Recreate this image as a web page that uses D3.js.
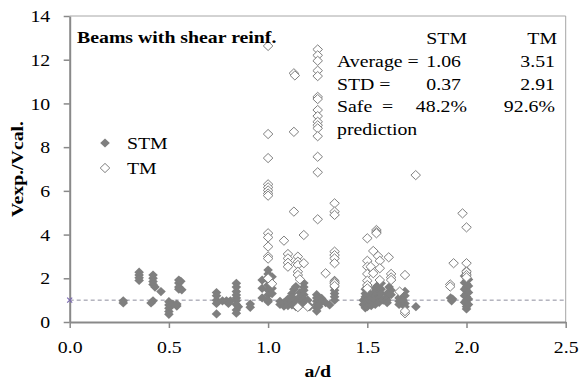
<!DOCTYPE html>
<html>
<head>
<meta charset="utf-8">
<script src="https://cdn.jsdelivr.net/npm/d3@7"></script>
<style>
  body { margin: 0; background: #fff; }
  text { font-family: "Liberation Serif", "Times New Roman", serif; fill: #000; }
</style>
</head>
<body>
<div id="chart"></div>
<script>
// shear strength ratio vs a/d, STM (filled) and TM (hollow)
const stmPoints = [
  [0.27,0.97],[0.27,0.87],
  [0.35,2.28],[0.35,2.15],[0.35,2.02],[0.35,1.9],
  [0.42,2.15],[0.42,2.0],[0.42,1.85],[0.42,1.72],[0.43,1.6],[0.46,1.39],[0.42,0.97],[0.41,0.87],
  [0.5,0.93],[0.5,0.78],[0.5,0.63],[0.5,0.48],[0.5,0.35],[0.52,0.82],[0.54,0.73],[0.54,0.82],
  [0.55,1.92],[0.55,1.78],[0.55,1.6],[0.55,1.5],[0.56,1.86],[0.565,1.47],
  [0.74,1.35],[0.74,1.2],[0.74,1.0],[0.74,0.85],[0.74,0.37],
  [0.77,0.97],[0.79,0.97],[0.81,0.97],[0.8,0.85],
  [0.84,1.77],[0.84,1.6],[0.84,1.4],[0.84,1.24],[0.84,1.1],[0.84,0.97],[0.84,0.8],[0.84,0.55],[0.84,0.4],[0.85,0.7],
  [0.91,0.82],[0.91,0.67],
  [1.0,2.38],[1.0,2.2],[1.0,2.05],[1.0,1.92],[1.0,1.69],[1.0,1.46],[1.0,1.24],[1.0,1.0],[1.0,0.93],
  [0.97,1.92],[0.97,1.54],[0.97,1.1],[1.02,2.07],[1.02,1.54],[1.02,1.3],
  [1.06,0.95],[1.06,0.8],[1.08,0.88],[1.08,0.73],[1.1,1.05],[1.1,0.9],[1.1,0.75],
  [1.12,1.3],[1.12,1.15],[1.12,0.95],[1.12,0.78],[1.13,1.5],[1.14,1.62],[1.14,1.0],[1.14,0.85],[1.14,0.7],
  [1.16,1.35],[1.16,1.15],[1.16,0.9],[1.16,0.75],[1.18,1.78],[1.18,1.6],[1.18,1.45],[1.18,1.25],[1.18,1.05],[1.18,0.85],
  [1.2,1.0],[1.2,0.8],[1.21,0.7],
  [1.245,1.25],[1.245,1.1],[1.245,0.95],[1.245,0.8],[1.245,0.65],[1.245,0.5],[1.255,1.0],[1.255,0.7],
  [1.27,1.08],[1.27,0.92],[1.29,0.88],[1.31,0.78],
  [1.335,1.9],[1.335,1.75],[1.335,1.6],[1.335,1.45],[1.335,1.3],[1.335,1.15],[1.335,1.0],
  [1.48,1.0],[1.48,0.8],[1.49,1.5],[1.49,1.3],[1.49,1.15],[1.49,0.65],[1.5,1.6],[1.5,1.4],[1.5,1.2],[1.5,1.0],[1.5,0.85],[1.5,0.7],
  [1.52,1.1],[1.52,0.9],[1.52,0.75],[1.53,1.3],[1.54,1.55],[1.54,1.4],[1.54,1.2],[1.54,1.0],[1.54,0.8],[1.55,1.65],
  [1.56,1.1],[1.56,0.9],[1.57,1.77],[1.57,1.5],[1.57,1.3],[1.58,1.0],
  [1.6,1.3],[1.6,1.15],[1.6,1.0],[1.6,0.88],[1.62,1.45],[1.62,1.25],[1.61,1.6],
  [1.66,0.95],[1.66,0.8],[1.66,1.1],[1.69,1.4],[1.69,1.2],[1.69,0.85],[1.69,0.7],[1.68,1.0],[1.745,0.7],
  [1.92,1.1],[1.925,0.97],[1.93,1.05],
  [2.0,2.35],[2.0,2.2],[2.0,2.05],[2.0,1.9],[2.0,1.75],[2.0,1.6],[2.0,1.45],[2.0,1.3],[2.0,1.15],[2.0,1.0],[2.0,0.85],[2.0,0.7],[2.0,0.6],
  [1.99,2.1],[1.99,1.8],[1.99,1.5],[1.99,1.2],[1.99,0.9],[2.01,1.95],[2.01,1.65],[2.01,1.35],[2.01,1.05],[2.01,0.8]
];

const tmPoints = [
  [1.0,12.63],[1.0,8.6],[1.0,7.5],[1.0,6.3],[1.0,6.16],[1.0,6.02],[1.0,5.88],[1.0,5.78],
  [1.0,4.06],[1.0,3.87],[1.0,3.45],[1.0,3.0],[1.0,2.9],[1.0,2.0],[1.02,1.75],
  [1.13,11.38],[1.135,11.28],[1.13,8.7],[1.08,3.72],[1.1,3.11],[1.1,2.91],[1.1,2.71],[1.1,2.53],[1.13,5.05],
  [1.15,2.99],[1.15,2.76],[1.15,2.61],[1.15,2.3],[1.15,2.15],[1.16,1.95],[1.18,2.69],[1.18,3.98],[1.15,0.68],[1.2,0.7],
  [1.25,12.47],[1.25,12.2],[1.25,11.95],[1.25,11.5],[1.25,11.25],[1.25,10.3],[1.25,10.2],[1.25,9.7],[1.25,9.42],
  [1.25,9.16],[1.25,9.0],[1.25,8.86],[1.25,8.5],[1.25,7.56],[1.25,6.85],[1.25,4.7],
  [1.29,2.23],
  [1.335,5.43],[1.335,5.05],[1.335,4.9],[1.335,3.22],[1.335,3.06],[1.335,2.91],[1.335,2.69],[1.335,1.84],[1.335,1.77],[1.335,1.65],
  [1.5,3.83],[1.5,2.8],[1.5,2.53],[1.5,2.2],[1.5,1.89],[1.5,1.69],[1.5,1.54],[1.517,2.53],[1.53,3.25],[1.53,2.23],
  [1.546,4.21],[1.546,4.12],[1.546,4.06],[1.554,3.02],[1.563,2.8],[1.563,2.46],[1.563,1.92],
  [1.608,2.96],[1.62,2.2],[1.62,2.04],[1.62,1.92],[1.69,2.15],[1.663,1.39],[1.69,0.4],[1.69,0.5],[1.744,6.72],
  [1.98,4.97],[2.0,4.33],[1.935,2.69],[2.0,2.69],[2.0,2.3],[2.0,2.15],[2.0,2.04],[1.918,1.72],[1.918,1.62]
];

const refLine = [[0, 1], [2.5, 1]];
const xTicks = [0, 0.5, 1.0, 1.5, 2.0, 2.5];
const yTicks = [0, 2, 4, 6, 8, 10, 12, 14];
const seriesNames = ["STM", "TM"];
const statLabels = ["Average =", "STD =", "Safe  =", "prediction"];
const stmStats = ["1.06", "0.37", "48.2%"];
const tmStats = ["3.51", "2.91", "92.6%"];

const W = 582, H = 391;
const SX = 1.2; // text in the original is stretched sideways
const FS = "16.5px";
const GREY = "#7f7f7f";

const svg = d3.select("#chart").append("svg")
  .attr("width", W).attr("height", H);

const x = d3.scaleLinear().domain([0, 2.5]).range([69.7, 565.7]);
const y = d3.scaleLinear().domain([0, 14]).range([322, 16]);

function label(g, px, py, str, anchor, bold, rot) {
  return g.append("text")
    .attr("transform", "translate(" + px + "," + py + ")" + (rot ? " rotate(-90)" : "") + " scale(" + SX + ",1)")
    .attr("text-anchor", anchor || "start")
    .style("font-size", FS)
    .style("font-weight", bold ? "bold" : "normal")
    .style("white-space", "pre")
    .text(str);
}

// plot frame (top + right)
svg.append("path")
  .attr("d", "M" + x(0) + "," + y(14) + "H" + x(2.5) + "V" + y(0))
  .attr("fill", "none").attr("stroke", "#a6a6a6").attr("stroke-width", 1);

// axes
const yAxis = d3.axisLeft(y).tickValues(yTicks).tickSize(6).tickSizeOuter(0).tickFormat(d3.format("d"));
const gy = svg.append("g").attr("transform", "translate(" + x(0) + ",0)").call(yAxis);
gy.selectAll("text").attr("x", null).attr("dy", "0.34em")
  .attr("transform", "translate(-19.5,0) scale(" + SX + ",1)")
  .style("font-size", FS).style("font-family", "Liberation Serif");

const xAxis = d3.axisBottom(x).tickValues(xTicks).tickSize(6).tickSizeOuter(0).tickFormat(d3.format(".1f"));
const gx = svg.append("g").attr("transform", "translate(0," + y(0) + ")").call(xAxis);
gx.selectAll("text").attr("y", null).attr("dy", null)
  .attr("transform", "translate(0,30.5) scale(" + SX + ",1)")
  .style("font-size", FS).style("font-family", "Liberation Serif");

[gx, gy].forEach(g => {
  g.select(".domain").attr("stroke", "#898989").attr("stroke-width", 2);
  g.selectAll(".tick line").attr("stroke", "#898989").attr("stroke-width", 1.5);
});

// reference line at ratio 1
svg.append("path")
  .datum(refLine)
  .attr("d", d3.line().x(d => x(d[0])).y(d => y(d[1])))
  .attr("fill", "none").attr("stroke", "#8c8c9c").attr("stroke-width", 1)
  .attr("stroke-dasharray", "4,3");
svg.append("path")
  .attr("transform", "translate(" + x(refLine[0][0]) + "," + y(refLine[0][1]) + ")")
  .attr("d", "M-2.5,-2.5L2.5,2.5M-2.5,2.5L2.5,-2.5")
  .attr("stroke", "#7a68b0").attr("stroke-width", 1.2);

const diamond = "M0,-4.6L4.8,0L0,4.6L-4.8,0Z";

svg.append("g").selectAll("path")
  .data(stmPoints).enter().append("path")
  .attr("d", diamond)
  .attr("transform", d => "translate(" + x(d[0]) + "," + y(d[1]) + ")")
  .attr("fill", GREY);

svg.append("g").selectAll("path")
  .data(tmPoints).enter().append("path")
  .attr("d", diamond)
  .attr("transform", d => "translate(" + x(d[0]) + "," + y(d[1]) + ")")
  .attr("fill", "#fff").attr("stroke", GREY).attr("stroke-width", 1);

// legend
const leg = svg.append("g");
seriesNames.forEach((name, i) => {
  leg.append("path")
    .attr("d", diamond)
    .attr("transform", "translate(105," + (143 + i * 25) + ")")
    .attr("fill", i === 0 ? GREY : "#fff")
    .attr("stroke", i === 0 ? "none" : GREY);
  label(leg, 127, 148.5 + i * 25, name);
});

// titles and statistics
label(svg, 77, 43, "Beams with shear reinf.", "start", true);
label(svg, 467, 44, seriesNames[0], "end");
label(svg, 557, 44, seriesNames[1], "end");
statLabels.forEach((s, i) => label(svg, 337, 67 + i * 22.7, s));
stmStats.forEach((s, i) => label(svg, i === 2 ? 467 : 461, 67 + i * 22.7, s, "end"));
tmStats.forEach((s, i) => label(svg, 555, 67 + i * 22.7, s, "end"));

label(svg, 317.7, 377, "a/d", "middle", true);
label(svg, 23, 169, "Vexp./Vcal.", "middle", true, true);
</script>
</body>
</html>
